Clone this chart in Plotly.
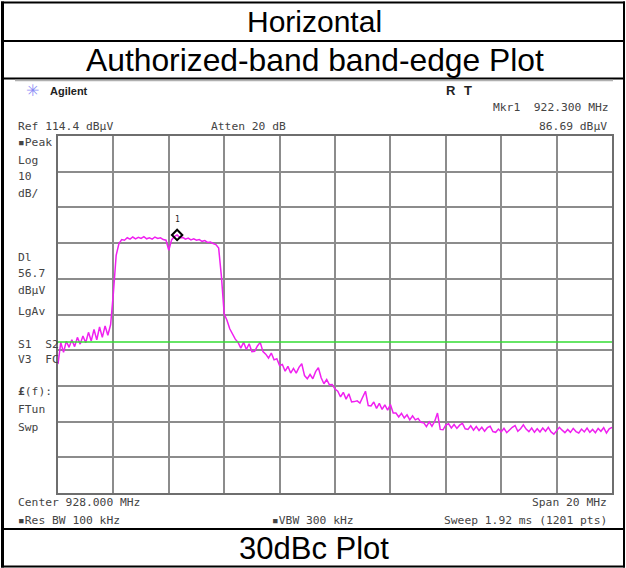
import plotly.graph_objects as go

W, H = 626, 568

# ---------------- data ----------------
START_MHZ = 918.0
STEP_MHZ = 0.1
REF_LEVEL = 114.4
DB_PER_DIV = 10
DISPLAY_LINE = 56.7
MARKER_FREQ = 922.3
MARKER_LEVEL = 86.69
X_TICK_STEP = 2

trace_dbuv = [
    50.5, 56.6, 53.8, 56.9, 55.2, 57.3, 55.4, 58.0, 56.1, 58.4,
    56.5, 59.4, 57.0, 60.2, 57.3, 60.9, 58.0, 61.2, 58.6, 61.6,
    70.5, 81.0, 84.3, 85.4, 85.2, 85.9, 85.5, 86.1, 85.6, 86.0,
    85.7, 86.2, 85.6, 85.9, 85.5, 86.1, 85.7, 85.9, 85.4, 85.2,
    82.4, 85.3, 86.2, 86.69, 85.9, 86.0, 85.5, 85.8, 85.3, 85.6,
    85.2, 85.4, 84.9, 85.1, 84.6, 84.7, 84.3, 84.0, 83.0, 75.0,
    64.5, 62.8, 60.4, 58.8, 57.5, 56.6, 55.0, 56.6, 54.6, 56.2,
    54.0, 54.1, 55.6, 56.6, 54.0, 53.3, 52.2, 53.6, 51.7, 52.0,
    50.1, 50.4, 48.5, 49.9, 48.0, 49.3, 48.0, 49.6, 50.6, 47.3,
    46.4, 47.6, 46.4, 48.4, 49.5, 46.7, 45.0, 46.2, 44.7, 44.8,
    43.5, 42.9, 41.3, 42.6, 40.7, 42.2, 39.9, 40.0, 40.2, 39.6,
    41.3, 42.9, 38.9, 38.8, 39.9, 38.1, 39.5, 37.8, 39.1, 37.6,
    39.2, 36.8, 36.8, 35.7, 36.7, 35.4, 36.3, 34.9, 36.0, 34.9,
    35.3, 34.2, 34.1, 33.0, 34.3, 33.1, 34.5, 36.8, 32.2, 32.1,
    33.4, 33.8, 32.6, 33.6, 32.5, 33.4, 33.9, 32.4, 32.2, 33.2,
    32.0, 33.0, 31.9, 32.8, 31.7, 32.7, 33.1, 31.6, 31.4, 32.3,
    31.5, 32.5, 31.3, 32.2, 32.8, 33.3, 31.7, 32.4, 33.5, 32.3,
    31.6, 32.6, 31.4, 32.4, 31.5, 32.6, 31.7, 32.8, 31.5, 30.9,
    31.9, 32.8, 32.0, 31.3, 32.2, 31.4, 32.5, 31.6, 31.2, 32.3,
    31.5, 32.6, 31.4, 32.2, 31.3, 32.5, 31.7, 32.7, 31.2, 32.4,
    32.8,
]
freq_mhz = [round(START_MHZ + i * STEP_MHZ, 3) for i in range(len(trace_dbuv))]

x_min, x_max = 918.0, 938.0
y_max = REF_LEVEL
y_min = REF_LEVEL - 10 * DB_PER_DIV

# ---------------- figure ----------------
fig = go.Figure()
fig.add_trace(go.Scatter(
    x=freq_mhz, y=trace_dbuv, mode="lines",
    line=dict(color="#f020f0", width=1.5), hoverinfo="skip", showlegend=False,
))
fig.add_trace(go.Scatter(
    x=[MARKER_FREQ], y=[MARKER_LEVEL], mode="markers",
    marker=dict(symbol="diamond-open", size=8, color="#000000", line=dict(width=2, color="#000")),
    showlegend=False, hoverinfo="skip",
))

def px(x):
    return x / W

def py(y):
    return 1 - y / H

mono = "DejaVu Sans Mono"
tcol = "#444444"
annots = []

def txt(x, y, s, anchor="left", size=11.3, family=mono, color=tcol, bold=False):
    if bold:
        s = "<b>" + s + "</b>"
    annots.append(dict(x=px(x), y=py(y), xref="paper", yref="paper", text=s,
                       showarrow=False, xanchor=anchor, yanchor="middle",
                       font=dict(family=family, size=size, color=color)))

# table titles
sans = "Liberation Sans, Arial"
txt(314, 21, "Horizontal", anchor="center", size=30, family=sans, color="#000")
txt(315, 60, "Authorized-band band-edge Plot", anchor="center", size=31.8, family=sans, color="#000")
txt(314, 548, "30dBc Plot", anchor="center", size=31, family=sans, color="#000")

# analyzer header
txt(24, 91, "✳", size=16, family="DejaVu Sans", color="#8a8cf5")
txt(48, 91, "Agilent", size=11, family=sans, color="#222", bold=True)
txt(444, 90, "R", size=13, family=sans, color="#222", bold=True)
txt(462, 90, "T", size=13, family=sans, color="#222", bold=True)
txt(611, 107, f"Mkr1  {MARKER_FREQ:.3f} MHz", anchor="right")
txt(609, 126, f"{MARKER_LEVEL:.2f} dBµV", anchor="right")
txt(16, 127, f"Ref {REF_LEVEL} dBµV")
txt(209, 127, "Atten 20 dB")

left_labels = [(142, "▪Peak"), (160, "Log"), (177, f"{DB_PER_DIV}"), (193, "dB/"),
               (257, "Dl"), (273, f"{DISPLAY_LINE}"), (290, "dBµV"), (311, "LgAv"),
               (344, "S1  S2"), (359, "V3  FC"), (409, "FTun"), (427, "Swp")]
for yy, s in left_labels:
    txt(16, yy, s)
txt(16, 391, "<b>£</b>(f):")

txt(16, 502, f"Center {(x_min + x_max) / 2:.3f} MHz")
txt(609, 502, f"Span {x_max - x_min:.0f} MHz", anchor="right")
txt(16, 520, "▪Res BW 100 kHz")
txt(270, 520, "▪VBW 300 kHz")
txt(609, 520, "Sweep 1.92 ms (1201 pts)", anchor="right")

# marker label
annots.append(dict(x=MARKER_FREQ, y=MARKER_LEVEL, xref="x", yref="y", text="1",
                   showarrow=False, yshift=15, font=dict(family=mono, size=8, color="#222")))

shapes = []
# display line
shapes.append(dict(type="line", xref="paper", yref="y",
                   x0=58 / W, x1=612 / W, y0=DISPLAY_LINE, y1=DISPLAY_LINE,
                   line=dict(color="#33dd33", width=1.5), layer="above"))

def hline(y, x0, x1, color="#000", width=2):
    shapes.append(dict(type="line", xref="paper", yref="paper", x0=px(x0), x1=px(x1),
                       y0=py(y), y1=py(y), line=dict(color=color, width=width)))

def vline(x, y0, y1, color="#000", width=2):
    shapes.append(dict(type="line", xref="paper", yref="paper", x0=px(x), x1=px(x),
                       y0=py(y0), y1=py(y1), line=dict(color=color, width=width)))

hline(2.5, 1, 625)
hline(41, 1, 625)
hline(78.5, 1, 625)
hline(80.5, 15, 613, color="#b0b0b0", width=1.5)
hline(529, 1, 625)
hline(566.5, 1, 625)
vline(2.5, 1.5, 567.5, width=3)
vline(624, 1.5, 567.5)

fig.update_layout(
    width=W, height=H,
    margin=dict(l=0, r=0, t=0, b=0),
    paper_bgcolor="white", plot_bgcolor="white",
    annotations=annots, shapes=shapes, showlegend=False,
    xaxis=dict(domain=[58 / W, 612 / W], range=[x_min, x_max], tick0=x_min, dtick=X_TICK_STEP,
               showticklabels=False, ticks="", showgrid=True, gridcolor="#8c8c8c", gridwidth=2,
               zeroline=False, showline=True, linecolor="#6e6e6e", linewidth=2, mirror=True,
               fixedrange=True),
    yaxis=dict(domain=[1 - 493 / H, 1 - 136 / H], range=[y_min, y_max], tick0=y_min, dtick=DB_PER_DIV,
               showticklabels=False, ticks="", showgrid=True, gridcolor="#8c8c8c", gridwidth=2,
               zeroline=False, showline=True, linecolor="#6e6e6e", linewidth=2, mirror=True,
               fixedrange=True),
)

fig.write_html("out.html", config={"displayModeBar": False},
               post_script="document.body.style.margin='0';document.body.style.overflow='hidden';")
